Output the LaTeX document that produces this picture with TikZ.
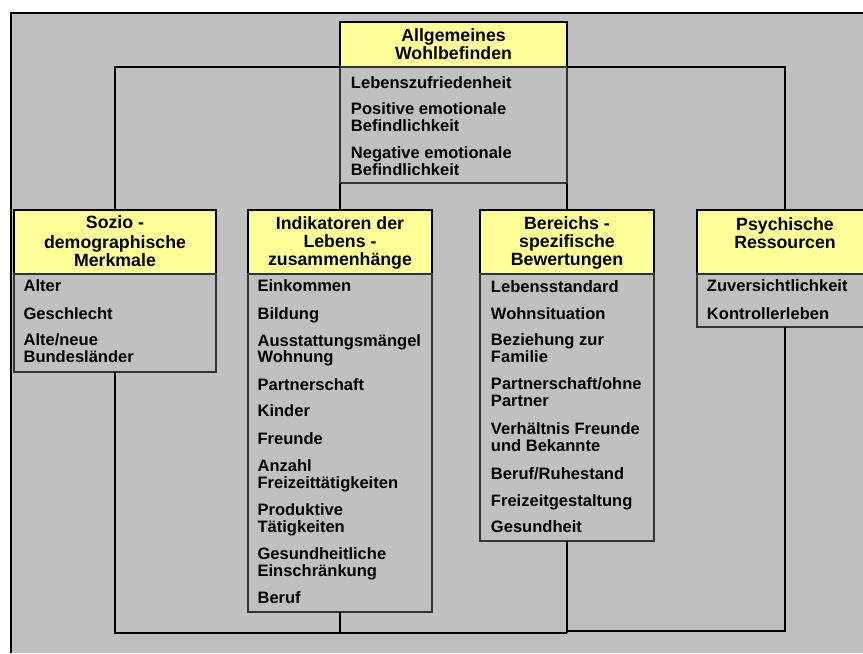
\documentclass[tikz,border=0pt]{standalone}
\usepackage{fontspec}
\setmainfont{Liberation Sans}
\usetikzlibrary{calc}
\definecolor{bggray}{HTML}{C0C0C0}
\definecolor{hdryel}{HTML}{FFFF99}
\begin{document}
\begin{tikzpicture}[x=0.75pt,y=-0.75pt,
  bx/.style n args={2}{minimum width=#1*0.75pt, minimum height=#2*0.75pt, anchor=north west, inner sep=0pt, outer sep=0pt},
  hdrbox/.style={draw=black, line width=0.9pt, fill=hdryel},
  lstbox/.style={draw=black!80, line width=0.9pt, fill=bggray},
  conn/.style={draw=black, line width=0.8pt},
  htxt/.style={anchor=base, inner sep=0pt, font=\bfseries\fontsize{13.3pt}{15pt}\selectfont},
  itxt/.style={anchor=base west, inner sep=0pt, font=\bfseries\fontsize{12.4pt}{14pt}\selectfont}
]
\useasboundingbox (0,0) rectangle (863,653);
% background
\fill[bggray] (10.5,12.5) rectangle (863,653);
\draw[line width=1.2pt] (11,653) -- (11,13) -- (863,13);

% boxes
\node[bx={227}{45}, hdrbox] (topH) at (340,22) {};
\node[bx={227}{116}, lstbox] (topL) at (340,67) {};
\node[bx={202}{64}, hdrbox] (sozH) at (14,210) {};
\node[bx={202}{98}, lstbox] (sozL) at (14,274) {};
\node[bx={184}{64}, hdrbox] (indH) at (248,210) {};
\node[bx={184}{338}, lstbox] (indL) at (248,274) {};
\node[bx={174}{64}, hdrbox] (berH) at (480,210) {};
\node[bx={174}{267}, lstbox] (berL) at (480,274) {};
\node[bx={176}{64}, hdrbox] (psyH) at (697,210) {};
\node[bx={176}{53}, lstbox] (psyL) at (697,274) {};

% connectors
\coordinate (bm) at (567,633);
\coordinate (br) at (567,631);
\draw[conn] (topH.south west) -| (sozH.north);
\draw[conn] (topH.south east) -| (psyH.north);
\draw[conn] (topL.south west) -- (indH.north);
\draw[conn] (topL.south east) -- (berH.north);
\draw[conn] (sozL.south) |- (bm);
\draw[conn] (indL.south) -- (indL.south |- bm);
\draw[conn] (berL.south) -- (bm);
\draw[conn] (psyL.south) |- (br);

% header texts
\node[htxt] (tA1) at (453.5,41.7) {Allgemeines};
\node[htxt] (tA2) at (453.5,59.3) {Wohlbefinden};
\node[htxt] (tS1) at (115,228.5) {Sozio -};
\node[htxt] (tS2) at (115,248) {demographische};
\node[htxt] (tS3) at (115,266.5) {Merkmale};
\node[htxt] (tI1) at (340,229.3) {Indikatoren der};
\node[htxt] (tI2) at (340,247.3) {Lebens -};
\node[htxt] (tI3) at (340,265) {zusammenhänge};
\node[htxt] (tB1) at (567,229.3) {Bereichs -};
\node[htxt] (tB2) at (567,247.5) {spezifische};
\node[htxt] (tB3) at (567,265) {Bewertungen};
\node[htxt] (tP1) at (785,230.5) {Psychische};
\node[htxt] (tP2) at (785,248.3) {Ressourcen};

% top list
\node[itxt] (a1) at (350.7,88.3) {Lebenszufriedenheit};
\node[itxt] (a2) at (350.7,114.5) {Positive emotionale};
\node[itxt] (a3) at (350.7,131.5) {Befindlichkeit};
\node[itxt] (a4) at (350.7,158.5) {Negative emotionale};
\node[itxt] (a5) at (350.7,175.5) {Befindlichkeit};

% sozio list
\node[itxt] (s1) at (23.3,291.7) {Alter};
\node[itxt] (s2) at (23.3,319) {Geschlecht};
\node[itxt] (s3) at (23.3,345.7) {Alte/neue};
\node[itxt] (s4) at (23.3,362.3) {Bundesländer};

% indikatoren list
\node[itxt] (i1) at (257.3,291.7) {Einkommen};
\node[itxt] (i2) at (257.3,319.3) {Bildung};
\node[itxt] (i3) at (257.3,346) {Ausstattungsmängel};
\node[itxt] (i4) at (257.3,362.7) {Wohnung};
\node[itxt] (i5) at (257.3,390) {Partnerschaft};
\node[itxt] (i6) at (257.3,416.7) {Kinder};
\node[itxt] (i7) at (257.3,444.5) {Freunde};
\node[itxt] (i8) at (257.3,471.7) {Anzahl};
\node[itxt] (i9) at (257.3,488) {Freizeittätigkeiten};
\node[itxt] (i10) at (257.3,515.7) {Produktive};
\node[itxt] (i11) at (257.3,532.5) {Tätigkeiten};
\node[itxt] (i12) at (257.3,559.7) {Gesundheitliche};
\node[itxt] (i13) at (257.3,576.3) {Einschränkung};
\node[itxt] (i14) at (257.3,603.7) {Beruf};

% bereichs list
\node[itxt] (b1) at (490.7,292.3) {Lebensstandard};
\node[itxt] (b2) at (490.7,319) {Wohnsituation};
\node[itxt] (b3) at (490.7,345.7) {Beziehung zur};
\node[itxt] (b4) at (490.7,362.3) {Familie};
\node[itxt] (b5) at (490.7,389.3) {Partnerschaft/ohne};
\node[itxt] (b6) at (490.7,406.5) {Partner};
\node[itxt] (b7) at (490.7,434.3) {Verhältnis Freunde};
\node[itxt] (b8) at (490.7,451.2) {und Bekannte};
\node[itxt] (b9) at (490.7,479.3) {Beruf/Ruhestand};
\node[itxt] (b10) at (490.7,506.5) {Freizeitgestaltung};
\node[itxt] (b11) at (490.7,532.7) {Gesundheit};

% psychische list
\node[itxt] (p1) at (706.7,291.7) {Zuversichtlichkeit};
\node[itxt] (p2) at (706.7,319) {Kontrollerleben};
\end{tikzpicture}
\end{document}
